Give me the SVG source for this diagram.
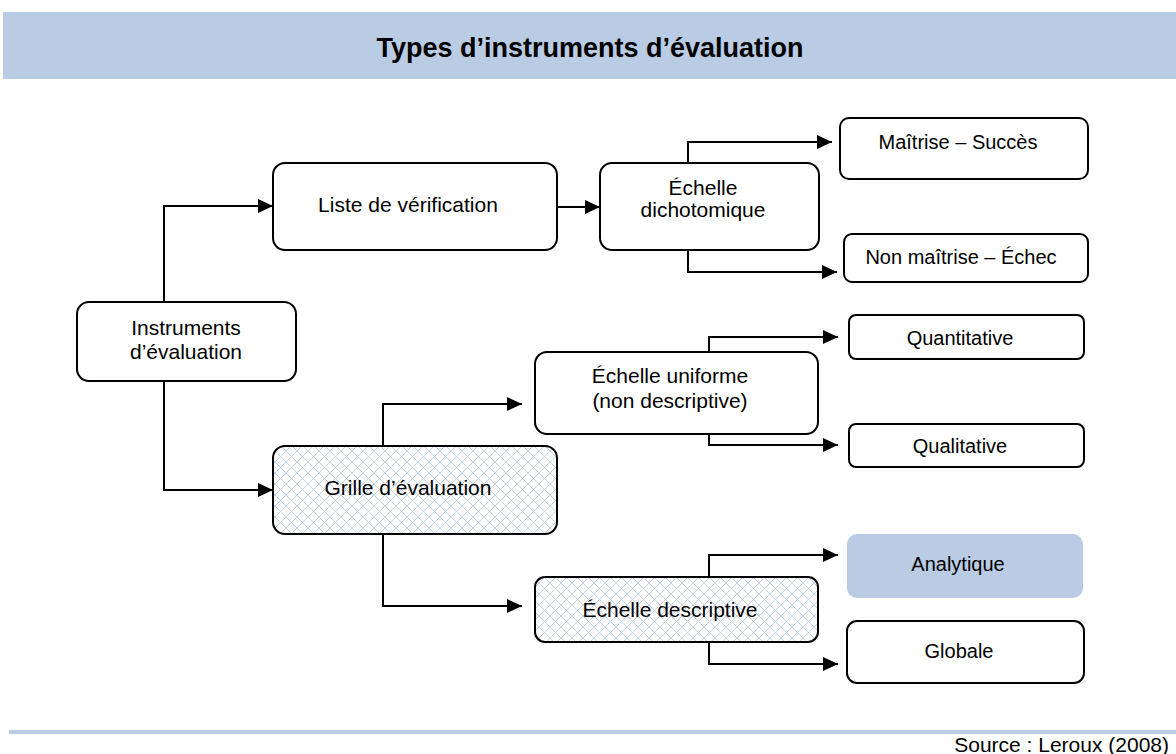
<svg xmlns="http://www.w3.org/2000/svg" width="1176" height="754" viewBox="0 0 1176 754">
<style>
.box{fill:#fff;stroke:#000;stroke-width:2}
.hatch{fill:url(#hatch);stroke:#000;stroke-width:2}
.t{font-family:"Liberation Sans",Arial,sans-serif;font-size:21px;fill:#000;text-anchor:middle}
.s{font-size:20px}
.c{fill:none;stroke:#000;stroke-width:2;marker-end:url(#arr)}
</style>
<defs>
<pattern id="hatch" patternUnits="userSpaceOnUse" width="11" height="11">
<rect width="11" height="11" fill="#fff"/>
<path d="M0,0 L11,11 M11,0 L0,11" stroke="#c3d3e9" stroke-width="1"/>
</pattern>
<marker id="arr" markerUnits="userSpaceOnUse" markerWidth="16" markerHeight="16" refX="15" refY="7" orient="auto">
<path d="M0,0 L15,7 L0,14 z" fill="#000"/>
</marker>
</defs>
<rect x="3" y="12" width="1173" height="67" fill="#b9cce4"/>
<text x="590" y="57" style="font-family:'Liberation Sans',Arial,sans-serif;font-size:27px;font-weight:bold;text-anchor:middle">Types d’instruments d’évaluation</text>
<g id="connectors">
<path class="c" d="M164,302 V206 H273"/>
<path class="c" d="M164,381 V490 H273"/>
<path class="c" d="M557,207 H600"/>
<path class="c" d="M688,163 V142 H832"/>
<path class="c" d="M688,250 V272 H837"/>
<path class="c" d="M383,446 V404 H522"/>
<path class="c" d="M383,534 V606 H522"/>
<path class="c" d="M709,352 V337 H838"/>
<path class="c" d="M709,434 V445 H838"/>
<path class="c" d="M709,577 V555 H838"/>
<path class="c" d="M709,642 V664 H838"/>
</g>
<g id="instruments">
<rect class="box" x="77" y="302" width="219" height="79" rx="12"/>
<text class="t" x="186" y="335">Instruments</text>
<text class="t" x="186" y="359">d’évaluation</text>
</g>
<g id="liste">
<rect class="box" x="273" y="163" width="284" height="87" rx="12"/>
<text class="t" x="408" y="212">Liste de vérification</text>
</g>
<g id="dichotomique">
<rect class="box" x="600" y="163" width="219" height="87" rx="12"/>
<text class="t" x="703" y="195">Échelle</text>
<text class="t" x="703" y="217">dichotomique</text>
</g>
<g id="maitrise">
<rect class="box" x="840" y="118" width="248" height="61" rx="9"/>
<text class="t s" x="958" y="149">Maîtrise – Succès</text>
</g>
<g id="nonmaitrise">
<rect class="box" x="844" y="234" width="244" height="48" rx="8"/>
<text class="t s" x="961" y="264">Non maîtrise – Échec</text>
</g>
<g id="grille">
<rect class="hatch" x="273" y="446" width="284" height="88" rx="12"/>
<text class="t" x="408" y="495">Grille d’évaluation</text>
</g>
<g id="uniforme">
<rect class="box" x="535" y="352" width="283" height="82" rx="12"/>
<text class="t" x="670" y="383">Échelle uniforme</text>
<text class="t" x="670" y="408">(non descriptive)</text>
</g>
<g id="quantitative">
<rect class="box" x="849" y="315" width="235" height="44" rx="7"/>
<text class="t s" x="960" y="345">Quantitative</text>
</g>
<g id="qualitative">
<rect class="box" x="849" y="424" width="235" height="43" rx="7"/>
<text class="t s" x="960" y="453">Qualitative</text>
</g>
<g id="descriptive">
<rect class="hatch" x="535" y="577" width="283" height="65" rx="10"/>
<text class="t" x="670" y="617">Échelle descriptive</text>
</g>
<g id="analytique">
<rect x="847" y="534" width="236" height="64" rx="10" fill="#b9cce4"/>
<text class="t s" x="958" y="571">Analytique</text>
</g>
<g id="globale">
<rect class="box" x="847" y="621" width="237" height="62" rx="10"/>
<text class="t s" x="959" y="658">Globale</text>
</g>
<rect x="9" y="730" width="1167" height="4" fill="#b9cce4"/>
<text x="1169" y="752" style="font-family:'Liberation Sans',Arial,sans-serif;font-size:21px;text-anchor:end">Source : Leroux (2008)</text>
</svg>
